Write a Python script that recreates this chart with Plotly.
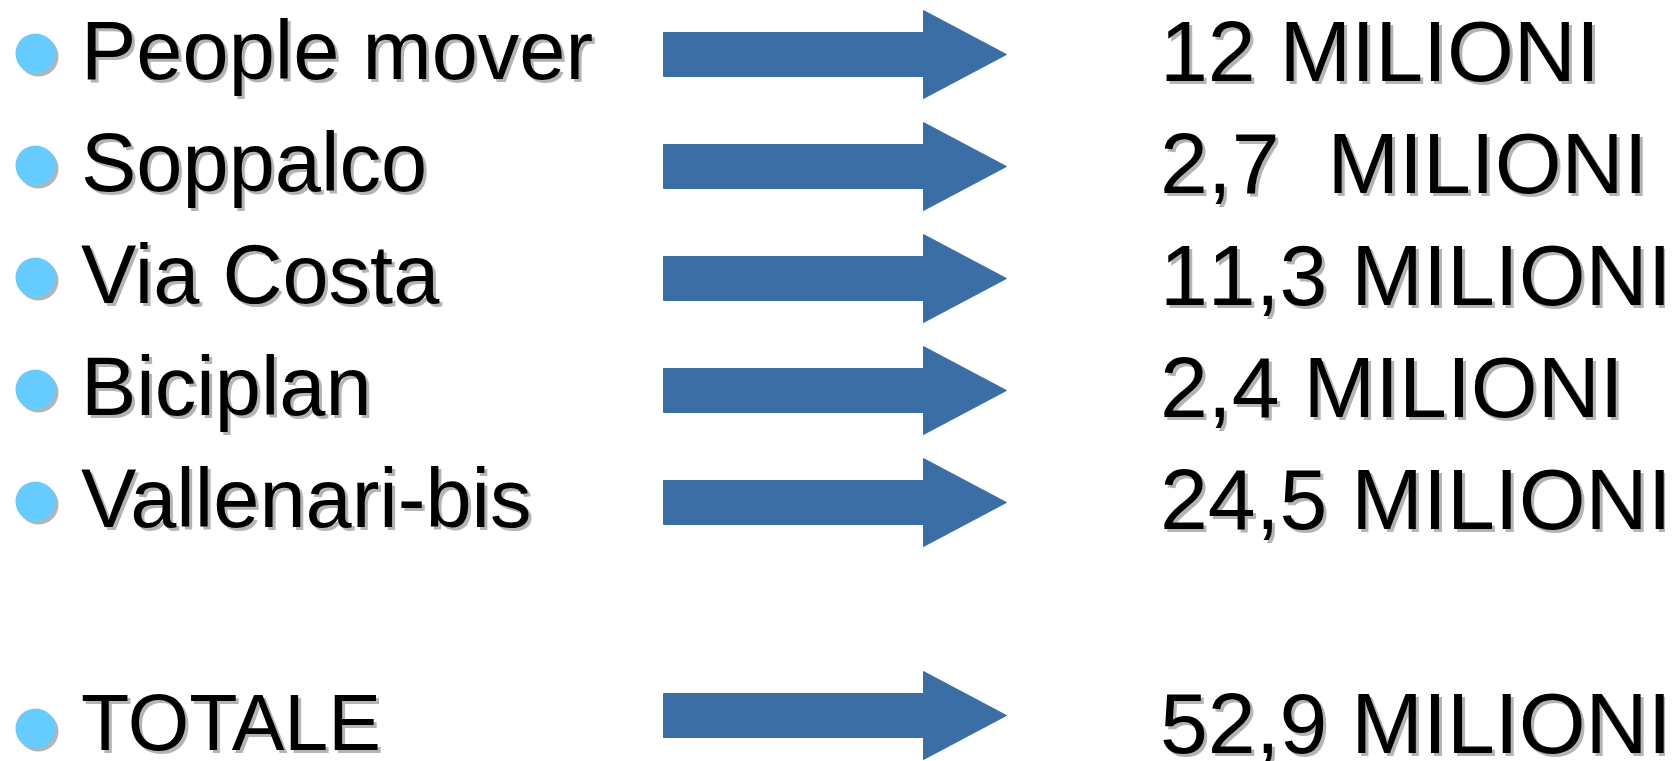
import plotly.graph_objects as go

# ---- data ----
items = ["People mover", "Soppalco", "Via Costa", "Biciplan", "Vallenari-bis", "TOTALE"]
value_labels = ["12 MILIONI", "2,7  MILIONI", "11,3 MILIONI", "2,4 MILIONI", "24,5 MILIONI", "52,9 MILIONI"]

# ---- layout constants (pixel space) ----
W, H = 1673, 761
arrow_y = [46.5, 158.5, 270.5, 382.5, 494.5, 707.5]
text_y = [42.5, 154.5, 266.5, 378.5, 490.5, 714.5]
bullet_y = [45.5, 157.5, 269.5, 381.5, 493.5, 720.5]
bullet_x = 27.5
label_x = 70.5
value_x = 1149.5
shaft_x0, head_x0, tip_x = 655.5, 915.5, 998.5
shaft_half, head_half = 22, 44

ARROW_C = "#3A6EA5"
BULLET_C = "#66CCFF"
SHADOW_C = "#B4B4B4"
FONT = "Liberation Sans, Arial, sans-serif"
FS_LEFT = 83
FS_RIGHT = 86
FS_TOTAL = 79


def no_kern(s):
    # spaces -> nbsp, zero-width non-joiner between glyphs to avoid kerning
    return "\u200c".join(s.replace(" ", "\u00a0"))


fig = go.Figure()

# arrows
for yc in arrow_y:
    xs = [shaft_x0, head_x0, head_x0, tip_x, head_x0, head_x0, shaft_x0, shaft_x0]
    ys = [yc - shaft_half, yc - shaft_half, yc - head_half, yc, yc + head_half,
          yc + shaft_half, yc + shaft_half, yc - shaft_half]
    fig.add_trace(go.Scatter(x=xs, y=ys, mode="lines", fill="toself",
                             fillcolor=ARROW_C, line=dict(color=ARROW_C, width=1),
                             hoverinfo="skip", showlegend=False))

# bullet shadows and bullets
fig.add_trace(go.Scatter(x=[bullet_x + 3] * len(bullet_y), y=[b + 3 for b in bullet_y],
                         mode="markers", marker=dict(size=40, color=SHADOW_C, line=dict(width=0)),
                         hoverinfo="skip", showlegend=False))
fig.add_trace(go.Scatter(x=[bullet_x] * len(bullet_y), y=bullet_y,
                         mode="markers", marker=dict(size=40, color=BULLET_C, line=dict(width=0)),
                         hoverinfo="skip", showlegend=False))

shadow = "3px 3px 0px " + SHADOW_C
n = len(items)
for i, (name, val) in enumerate(zip(items, value_labels)):
    fs_l = FS_TOTAL if i == n - 1 else FS_LEFT
    fig.add_annotation(x=label_x, y=text_y[i], text=name.replace(" ", "\u00a0"),
                       xanchor="left", yanchor="middle", showarrow=False,
                       font=dict(family=FONT, size=fs_l, color="black", shadow=shadow))
    fig.add_annotation(x=value_x, y=text_y[i], text=no_kern(val),
                       xanchor="left", yanchor="middle", showarrow=False,
                       font=dict(family=FONT, size=FS_RIGHT, color="black", shadow=shadow))

fig.update_layout(
    width=W, height=H,
    margin=dict(l=0, r=0, t=0, b=0),
    paper_bgcolor="white", plot_bgcolor="white",
    xaxis=dict(range=[0, W], visible=False, fixedrange=True),
    yaxis=dict(range=[H, 0], visible=False, fixedrange=True),
    showlegend=False,
)

fig.write_html("out.html")
